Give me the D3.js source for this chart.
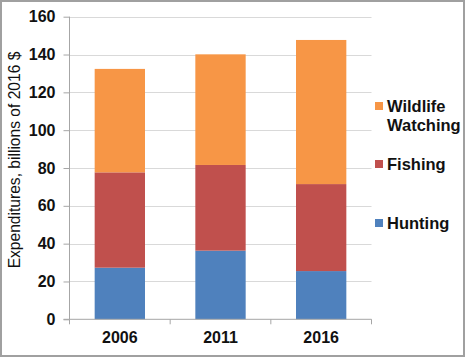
<!DOCTYPE html>
<html><head><meta charset="utf-8">
<script src="https://cdn.jsdelivr.net/npm/d3@7"></script>
<style>html,body{margin:0;padding:0;background:#fff;}svg{display:block;}</style>
</head><body>
<svg id="chart" width="466" height="358"></svg>
<script>
const years = ["2006", "2011", "2016"];
const hunting = [27.3, 36.3, 25.5];
const fishing = [50.4, 45.3, 46.0];
const watching = [54.7, 58.5, 76.2];
const seriesNames = ["Hunting", "Fishing", "Wildlife Watching"];
const seriesColors = ["#4f81bd", "#c0504d", "#f79646"];
const yTicks = [0, 20, 40, 60, 80, 100, 120, 140, 160];
const yLabel = "Expenditures, billions of 2016 $";

const svg = d3.select("#chart");
const font = "'Liberation Sans', Arial, sans-serif";
const m = {left: 69.5, right: 371.5, top: 16.7, bottom: 319.3};

svg.append("rect").attr("x", 1).attr("y", 1).attr("width", 463).attr("height", 355)
  .attr("fill", "#fff").attr("stroke", "#a0a0a0").attr("stroke-width", 2);

const x = d3.scaleBand().domain(years).range([m.left, m.right]).paddingInner(0.5).paddingOuter(0.25);
const y = d3.scaleLinear().domain([0, 160]).range([m.bottom, m.top]);

// gridlines
svg.append("g").selectAll("line").data(yTicks.filter(d => d > 0)).join("line")
  .attr("x1", m.left).attr("x2", m.right)
  .attr("y1", d => Math.round(y(d)) + 0.5).attr("y2", d => Math.round(y(d)) + 0.5)
  .attr("stroke", "#d9d9d9").attr("stroke-width", 1);

// stacked bars
const table = years.map((yr, i) => ({year: yr, Hunting: hunting[i], Fishing: fishing[i], "Wildlife Watching": watching[i]}));
const stack = d3.stack().keys(seriesNames)(table);
svg.append("g").selectAll("g").data(stack).join("g")
  .attr("fill", (d, i) => seriesColors[i])
  .selectAll("rect").data(d => d).join("rect")
  .attr("x", d => x(d.data.year))
  .attr("width", x.bandwidth())
  .attr("y", d => y(d[1]))
  .attr("height", d => y(d[0]) - y(d[1]));

// y axis
const yAxis = d3.axisLeft(y).tickValues(yTicks).tickSize(6).tickPadding(8);
const gy = svg.append("g").attr("transform", `translate(${m.left},0)`).call(yAxis);
gy.select(".domain").attr("stroke", "#a6a6a6").attr("d", `M-6,${m.bottom}H0V${m.top}`);
gy.selectAll(".tick line").attr("stroke", "#a6a6a6");
gy.selectAll("text").attr("font-family", font).attr("font-weight", "bold").attr("font-size", 16).attr("fill", "#111");

// x axis
const xAxis = d3.axisBottom(x).tickSize(0).tickPadding(12);
const gx = svg.append("g").attr("transform", `translate(0,${m.bottom})`).call(xAxis);
gx.select(".domain").attr("stroke", "#a6a6a6").attr("d", `M${m.left},0H${m.right}`);
gx.selectAll("text").attr("font-family", font).attr("font-weight", "bold").attr("font-size", 16).attr("fill", "#111");
// category boundary ticks
const bounds = d3.range(years.length + 1).map(i => m.left + i * (m.right - m.left) / years.length);
gx.append("g").selectAll("line").data(bounds).join("line")
  .attr("x1", d => d).attr("x2", d => d).attr("y1", 0).attr("y2", 5)
  .attr("stroke", "#a6a6a6");

// y label
svg.append("text").attr("transform", `translate(19.5,160) rotate(-90)`)
  .attr("text-anchor", "middle").attr("font-family", font).attr("font-size", 15.6)
  .attr("fill", "#111").text(yLabel);

// legend
const legendItems = [
  {name: "Wildlife Watching", lines: ["Wildlife", "Watching"], color: seriesColors[2], cy: 106},
  {name: "Fishing", lines: ["Fishing"], color: seriesColors[1], cy: 164},
  {name: "Hunting", lines: ["Hunting"], color: seriesColors[0], cy: 223}
];
const lg = svg.append("g").selectAll("g").data(legendItems).join("g");
lg.append("rect").attr("x", 375).attr("y", d => d.cy - 4).attr("width", 8).attr("height", 8).attr("fill", d => d.color);
lg.each(function(d) {
  const t = d3.select(this).append("text").attr("font-family", font).attr("font-weight", "bold")
    .attr("font-size", 16.5).attr("fill", "#111");
  d.lines.forEach((ln, i) => {
    t.append("tspan").attr("x", 387).attr("y", d.cy + 6 + i * 18.5).text(ln);
  });
});
</script>
</body></html>
